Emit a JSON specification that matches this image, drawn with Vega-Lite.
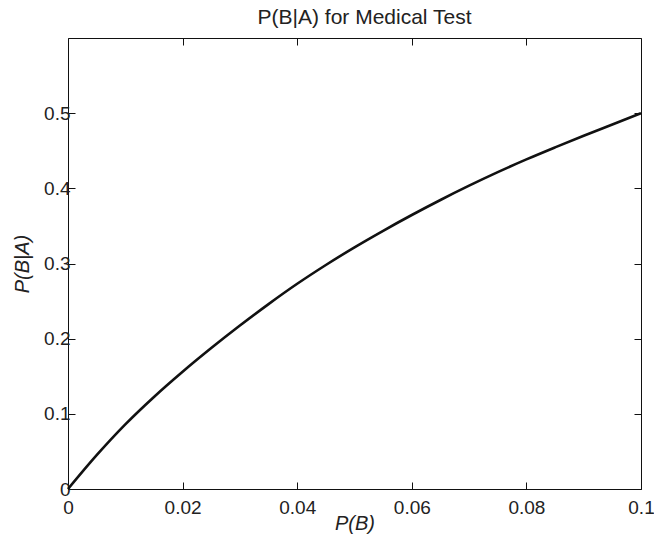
{
  "$schema": "https://vega.github.io/schema/vega-lite/v6.json",
  "autosize": "none",
  "width": 573,
  "height": 451,
  "padding": {"left": 68, "top": 38, "right": 13, "bottom": 49},
  "background": "white",
  "title": {
    "text": "P(B|A) for Medical Test",
    "font": "Liberation Sans",
    "fontSize": 21,
    "fontWeight": "normal",
    "color": "#222",
    "offset": 10,
    "dx": 10
  },
  "data": {
    "values": [
      {"pb": 0, "pba": 0},
      {"pb": 0.005, "pba": 0.045},
      {"pb": 0.01, "pba": 0.086},
      {"pb": 0.015, "pba": 0.1225},
      {"pb": 0.02, "pba": 0.156},
      {"pb": 0.025, "pba": 0.1875},
      {"pb": 0.03, "pba": 0.2175},
      {"pb": 0.035, "pba": 0.246},
      {"pb": 0.04, "pba": 0.273},
      {"pb": 0.045, "pba": 0.298},
      {"pb": 0.05, "pba": 0.3215},
      {"pb": 0.055, "pba": 0.3435},
      {"pb": 0.06, "pba": 0.3645},
      {"pb": 0.065, "pba": 0.3845},
      {"pb": 0.07, "pba": 0.4035},
      {"pb": 0.075, "pba": 0.4215},
      {"pb": 0.08, "pba": 0.4385},
      {"pb": 0.085, "pba": 0.4545},
      {"pb": 0.09, "pba": 0.47},
      {"pb": 0.095, "pba": 0.485},
      {"pb": 0.1, "pba": 0.5}
    ]
  },
  "config": {
    "view": {"stroke": "#111", "strokeWidth": 1},
    "axis": {
      "grid": false,
      "domain": false,
      "tickColor": "#111",
      "tickSize": -7,
      "tickWidth": 1,
      "labelFont": "Liberation Sans",
      "labelFontSize": 19,
      "labelColor": "#222",
      "titleFont": "Liberation Sans",
      "titleFontSize": 20,
      "titleFontWeight": "normal",
      "titleFontStyle": "italic",
      "titleColor": "#222"
    }
  },
  "resolve": {"axis": {"x": "independent", "y": "independent"}},
  "layer": [
    {
      "mark": {"type": "line", "color": "#111", "strokeWidth": 2.6, "interpolate": "monotone"},
      "encoding": {
        "x": {
          "field": "pb",
          "type": "quantitative",
          "scale": {"domain": [0, 0.1], "nice": false, "zero": false},
          "axis": {
            "orient": "bottom",
            "title": "P(B)",
            "values": [0, 0.02, 0.04, 0.06, 0.08, 0.1],
            "format": "~g",
            "labelPadding": 16,
            "titlePadding": -4,
            "labelFlush": false
          }
        },
        "y": {
          "field": "pba",
          "type": "quantitative",
          "scale": {"domain": [0, 0.6], "nice": false},
          "axis": {
            "orient": "left",
            "title": "P(B|A)",
            "values": [0, 0.1, 0.2, 0.3, 0.4, 0.5],
            "format": "~g",
            "labelPadding": 5,
            "titlePadding": 11,
            "encode": {"labels": {"update": {"dy": {"signal": "datum.value === 0 ? -3 : 0"}}}}
          }
        }
      }
    },
    {
      "mark": {"type": "line", "strokeOpacity": 0},
      "encoding": {
        "x": {
          "field": "pb",
          "type": "quantitative",
          "scale": {"domain": [0, 0.1], "nice": false, "zero": false},
          "axis": {
            "orient": "top",
            "title": null,
            "labels": false,
            "values": [0, 0.02, 0.04, 0.06, 0.08, 0.1]
          }
        },
        "y": {
          "field": "pba",
          "type": "quantitative",
          "scale": {"domain": [0, 0.6], "nice": false},
          "axis": {
            "orient": "right",
            "title": null,
            "labels": false,
            "values": [0, 0.1, 0.2, 0.3, 0.4, 0.5]
          }
        }
      }
    }
  ]
}
